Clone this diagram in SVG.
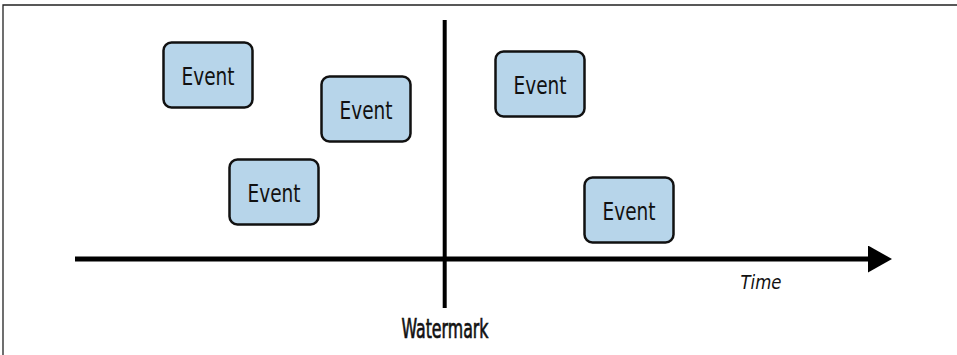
<svg xmlns="http://www.w3.org/2000/svg" width="957" height="355" viewBox="0 0 957 355">
<style>
.box{fill:#b7d5ea;stroke:#111;stroke-width:2.5}
.lbl{font-family:"DejaVu Sans Condensed","Liberation Sans",sans-serif;font-stretch:condensed;font-size:25px;fill:#111;text-anchor:middle}
</style>
<defs>
<marker id="ah" markerWidth="24" markerHeight="27" refX="0" refY="13.5" orient="auto" markerUnits="userSpaceOnUse">
<path d="M0,0 L24,13.5 L0,27 Z" fill="#000"/>
</marker>
</defs>
<rect width="957" height="355" fill="#fff"/>
<path d="M3,355 V5 H957" fill="none" stroke="#222" stroke-width="1.3"/>
<g id="connectors">
<line x1="75" y1="259" x2="868" y2="259" stroke="#000" stroke-width="5" marker-end="url(#ah)"/>
<line x1="444.7" y1="20" x2="444.7" y2="308" stroke="#000" stroke-width="4"/>
</g>
<g id="e1"><rect class="box" x="163.5" y="42.5" width="89" height="65" rx="8"/><text class="lbl" x="208" y="85" textLength="53" lengthAdjust="spacingAndGlyphs">Event</text></g>
<g id="e2"><rect class="box" x="321.5" y="76.5" width="89" height="65" rx="8"/><text class="lbl" x="366" y="119" textLength="53" lengthAdjust="spacingAndGlyphs">Event</text></g>
<g id="e3"><rect class="box" x="229.5" y="159.5" width="89" height="65" rx="8"/><text class="lbl" x="274" y="202" textLength="53" lengthAdjust="spacingAndGlyphs">Event</text></g>
<g id="e4"><rect class="box" x="495.5" y="51.5" width="89" height="65" rx="8"/><text class="lbl" x="540" y="94" textLength="53" lengthAdjust="spacingAndGlyphs">Event</text></g>
<g id="e5"><rect class="box" x="584.5" y="177.5" width="89" height="65" rx="8"/><text class="lbl" x="629" y="220" textLength="53" lengthAdjust="spacingAndGlyphs">Event</text></g>
<g id="watermark"><text class="lbl" x="445" y="338" style="font-size:27px;stroke:#111;stroke-width:0.7" textLength="87" lengthAdjust="spacingAndGlyphs">Watermark</text></g>
<g id="time"><text class="lbl" x="761" y="289" style="font-size:20px;font-style:italic" textLength="41" lengthAdjust="spacingAndGlyphs">Time</text></g>
</svg>
